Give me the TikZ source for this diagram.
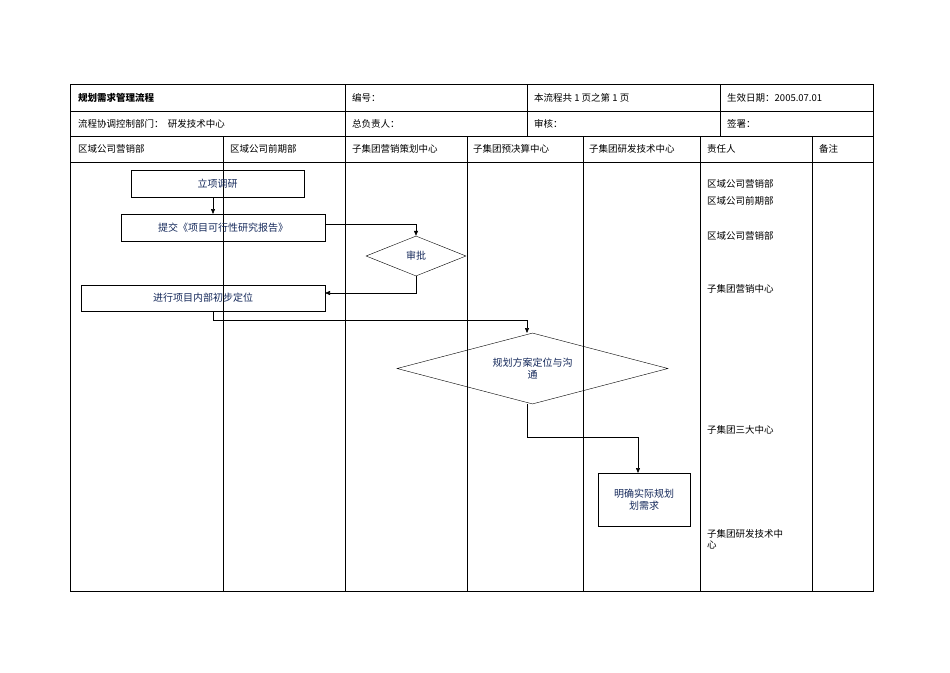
\documentclass[tikz,border=0pt]{standalone}
\usepackage{fontspec}
\setmainfont{Liberation Serif}
\newfontfamily\cjk{Noto Sans CJK SC}
\usetikzlibrary{shapes.geometric,arrows.meta}
\definecolor{boxtext}{RGB}{20,40,90}
\tikzset{
  cell/.style={anchor=west,font=\cjk\fontsize{9.5}{11}\selectfont,inner sep=0pt},
  proc/.style={draw,rectangle,font=\cjk\fontsize{10}{12}\selectfont,text=boxtext,inner sep=0pt},
  dec/.style={draw,diamond,font=\cjk\fontsize{10}{12}\selectfont,text=boxtext,inner sep=0pt},
  arr/.style={-{Triangle[length=5pt,width=4pt]},line width=0.6pt},
  grid/.style={line width=0.5pt}
}
\begin{document}
\begin{tikzpicture}[x=1pt,y=-1pt]
\useasboundingbox (0,0) rectangle (950,672);
% table
\draw[grid] (70,84) rectangle (873,591);
\draw[grid] (70,111)--(873,111) (70,136)--(873,136) (70,162)--(873,162);
\draw[grid] (345,84)--(345,136) (527,84)--(527,136) (720,84)--(720,136);
\foreach \x in {223,345,467,583,700,812} \draw[grid] (\x,136)--(\x,591);
% header texts
\node[cell,font=\cjk\bfseries\fontsize{9.5}{11}\selectfont] at (78,98) {规划需求管理流程};
\node[cell] at (352,98) {编号：};
\node[cell] at (534,98) {本流程共 1 页之第 1 页};
\node[cell] at (727,98) {生效日期：2005.07.01};
\node[cell] at (78,124) {流程协调控制部门：\ \ 研发技术中心};
\node[cell] at (352,124) {总负责人：};
\node[cell] at (534,124) {审核：};
\node[cell] at (727,124) {签署：};
\node[cell] at (78,149) {区域公司营销部};
\node[cell] at (230,149) {区域公司前期部};
\node[cell] at (352,149) {子集团营销策划中心};
\node[cell] at (473,149) {子集团预决算中心};
\node[cell] at (589,149) {子集团研发技术中心};
\node[cell] at (707,149) {责任人};
\node[cell] at (819,149) {备注};
% responsible
\node[cell] at (707,184) {区域公司营销部};
\node[cell] at (707,201) {区域公司前期部};
\node[cell] at (707,236) {区域公司营销部};
\node[cell] at (707,289) {子集团营销中心};
\node[cell] at (707,430) {子集团三大中心};
\node[cell,align=left,anchor=north west] at (707,529) {子集团研发技术中\\心};
% shapes
\node[proc,minimum width=173pt,minimum height=27pt] (a) at (217.5,183.5) {立项调研};
\node[proc,minimum width=204pt,minimum height=27pt] (b) at (223,227.5) {提交《项目可行性研究报告》};
\node[dec,minimum width=100pt,minimum height=40pt,aspect=2.5] (c) at (416,256) {审批};
\node[proc,minimum width=244pt,minimum height=26pt] (d) at (203,298) {进行项目内部初步定位};
\node[dec,minimum width=271pt,minimum height=71pt,aspect=3.8,align=center] (e) at (532.5,368.5) {规划方案定位与沟\\通};
\node[proc,minimum width=92pt,minimum height=53pt,align=center] (f) at (644,499.5) {明确实际规划\\划需求};
% connectors
\draw[arr] (213,197) -- (213,214);
\draw[arr] (325,224) -- (416,224) -- (c.north);
\draw[arr] (c.south) -- (416,293) -- (325,293);
\draw[arr] (213,311) -- (213,320) -- (527,320) -- (527,333);
\draw[arr] (527,404) -- (527,437) -- (638,437) -- (638,473);
\end{tikzpicture}
\end{document}
